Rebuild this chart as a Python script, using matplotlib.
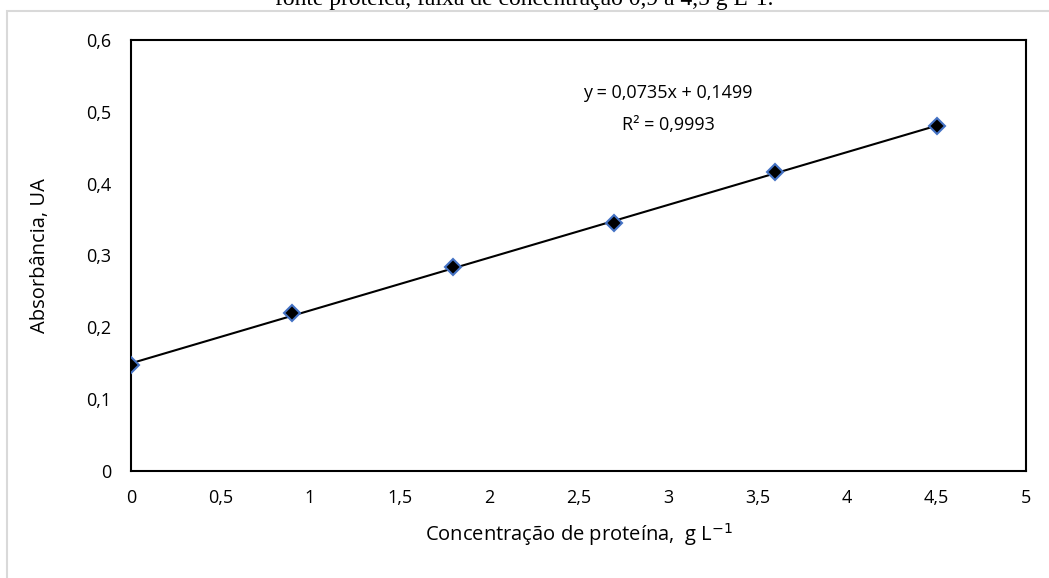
import numpy as np
import matplotlib.pyplot as plt
from matplotlib.patches import Rectangle
from matplotlib.ticker import FuncFormatter

# Curva de calibracao - proteina
concentracao = [0, 0.9, 1.8, 2.7, 3.6, 4.5]
absorbancia = [0.148, 0.220, 0.284, 0.345, 0.416, 0.480]
coef_a = 0.0735
coef_b = 0.1499
r2 = 0.9993

x_ticks = [0, 0.5, 1, 1.5, 2, 2.5, 3, 3.5, 4, 4.5, 5]
y_ticks = [0, 0.1, 0.2, 0.3, 0.4, 0.5, 0.6]

W, H = 1049, 578
fig = plt.figure(figsize=(W / 100, H / 100), dpi=100)
fig.patch.set_facecolor('white')

# frame of the chart area (grey)
fig.patches.append(Rectangle((7 / W, -0.05), 1.1, 1 - 11 / H + 0.05,
                             transform=fig.transFigure, fill=False,
                             edgecolor='#d9d9d9', linewidth=1.5))

# caption cut off at the top
fig.text(524 / W, 1 - 5 / H, 'fonte proteica, faixa de concentração 0,9 a 4,5 g L-1.',
         ha='center', va='baseline', fontsize=17, family='Liberation Serif')

ax = fig.add_axes([131 / W, 1 - 471 / H, (1026 - 131) / W, (471 - 40) / H])

# trendline
xl = np.array([concentracao[0], concentracao[-1]])
ax.plot(xl, coef_a * xl + coef_b, color='black', linewidth=1.5, zorder=2)

ax.plot(concentracao, absorbancia, linestyle='none', marker='D', markersize=8,
        markerfacecolor='black', markeredgecolor='#4472C4', markeredgewidth=1.5,
        zorder=3)

ax.set_xlim(0, 5)
ax.set_ylim(0, 0.6)
ax.set_xticks(x_ticks)
ax.set_yticks(y_ticks)

fmt = FuncFormatter(lambda v, p: ('%g' % round(v, 2)).replace('.', ','))
ax.xaxis.set_major_formatter(fmt)
ax.yaxis.set_major_formatter(fmt)

font = 'Open Sans'
ax.tick_params(length=0, labelsize=13, pad=13)
ax.tick_params(axis='y', pad=14)
for lab in ax.get_xticklabels() + ax.get_yticklabels():
    lab.set_family(font)

for s in ax.spines.values():
    s.set_linewidth(1.5)
    s.set_color('black')

ax.set_xlabel('Concentração de proteína,  g L$^{-1}$', fontsize=14.5, family=font,
              labelpad=10)
ax.set_ylabel('Absorbância, UA', fontsize=14.5, family=font, labelpad=26)

eq = 'y = %sx + %s' % (('%.4f' % coef_a).replace('.', ','), ('%.4f' % coef_b).replace('.', ','))
ax.text(3.0, 0.526, eq, ha='center', va='center', fontsize=13, family=font)
ax.text(3.0, 0.482, 'R² = %s' % ('%.4f' % r2).replace('.', ','), ha='center',
        va='center', fontsize=13, family=font)

fig.savefig('out.png', dpi=100)
